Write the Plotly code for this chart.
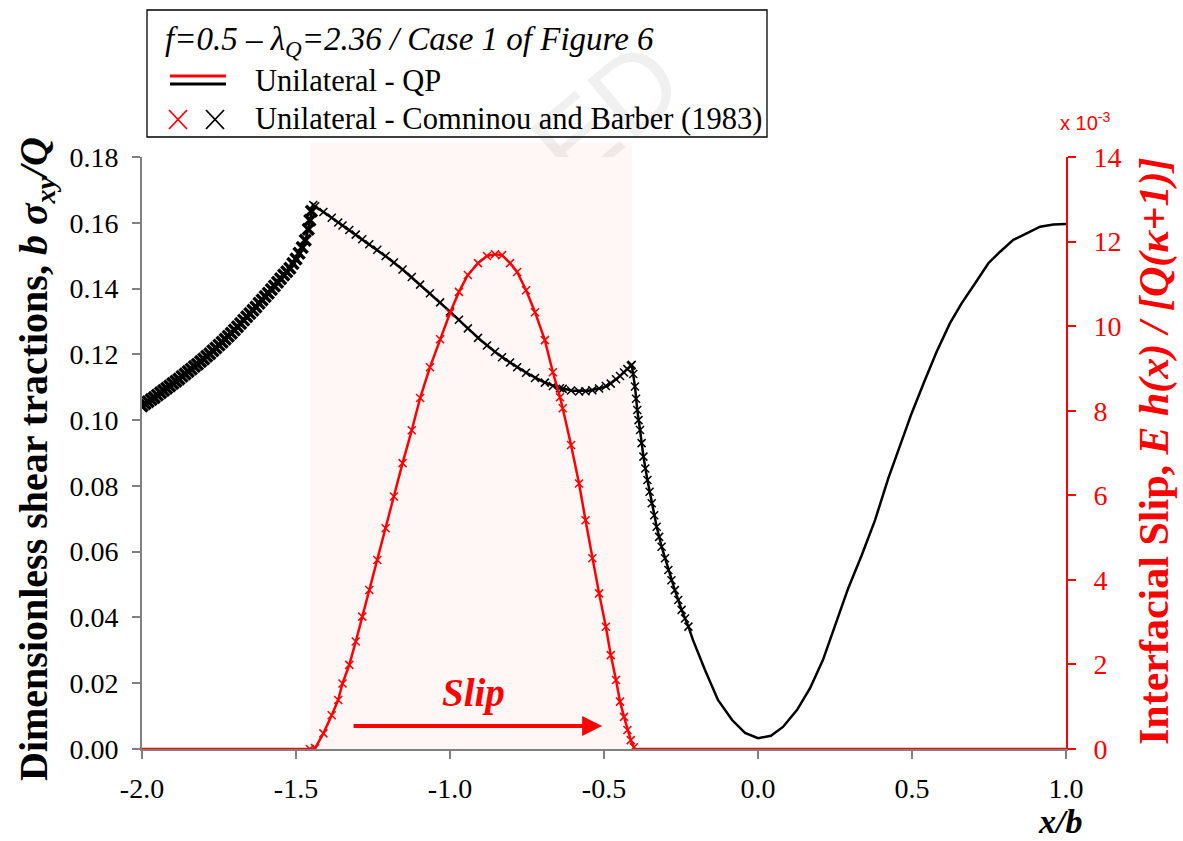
import plotly.graph_objects as go

# ---------------- data ----------------
# Comninou & Barber (1983) shear tractions, b*sigma_xy/Q -- stick zone x < -1.45
cb_stick_x = [-2.00, -1.99, -1.98, -1.97, -1.96, -1.95, -1.94, -1.93, -1.92, -1.91,
              -1.90, -1.89, -1.88, -1.87, -1.86, -1.85, -1.84, -1.83, -1.82, -1.81,
              -1.80, -1.79, -1.78, -1.77, -1.76, -1.75, -1.74, -1.73, -1.72, -1.71,
              -1.70, -1.69, -1.68, -1.67, -1.66, -1.65, -1.64, -1.63, -1.62, -1.61,
              -1.60, -1.59, -1.58, -1.57, -1.56, -1.55, -1.54, -1.53, -1.52, -1.51,
              -1.50, -1.49, -1.48, -1.47, -1.46, -1.455, -1.45]
cb_stick_tau = [0.1043, 0.1050, 0.1056, 0.1063, 0.1069, 0.1076, 0.1083, 0.1090, 0.1097, 0.1104,
                0.1111, 0.1118, 0.1125, 0.1133, 0.1140, 0.1148, 0.1155, 0.1163, 0.1170, 0.1178,
                0.1186, 0.1194, 0.1202, 0.1211, 0.1219, 0.1228, 0.1237, 0.1246, 0.1255, 0.1264,
                0.1274, 0.1284, 0.1294, 0.1304, 0.1314, 0.1324, 0.1334, 0.1344, 0.1355, 0.1365,
                0.1376, 0.1386, 0.1397, 0.1408, 0.1419, 0.1430, 0.1441, 0.1451, 0.1462, 0.1476,
                0.1490, 0.1507, 0.1525, 0.1547, 0.1580, 0.1608, 0.1635]

# Comninou & Barber (1983) shear tractions -- slip zone and trailing stick zone
cb_x = [-1.444, -1.438, -1.411, -1.384, -1.363, -1.349, -1.327, -1.306, -1.285, -1.262,
        -1.236, -1.209, -1.182, -1.154, -1.124, -1.097, -1.065, -1.032, -1.000,
        -0.971, -0.942, -0.909, -0.880, -0.854, -0.831, -0.805, -0.782, -0.753,
        -0.724, -0.692, -0.666, -0.643, -0.634, -0.607, -0.581, -0.560, -0.538,
        -0.516, -0.494, -0.478, -0.461, -0.448, -0.435, -0.424, -0.413, -0.410,
        -0.405, -0.3994, -0.396, -0.392, -0.388, -0.383, -0.378, -0.372, -0.366,
        -0.359, -0.352, -0.345, -0.337, -0.329, -0.321, -0.313, -0.302, -0.291,
        -0.281, -0.270, -0.259, -0.248, -0.237, -0.226]
cb_tau = [0.1654, 0.1650, 0.1633, 0.1615, 0.1601, 0.1592, 0.1578, 0.1564, 0.1550, 0.1535,
          0.1518, 0.1499, 0.1479, 0.1458, 0.1435, 0.1412, 0.1386, 0.1358, 0.1330,
          0.1305, 0.1279, 0.1250, 0.1227, 0.1208, 0.1191, 0.1175, 0.1161, 0.1144,
          0.1128, 0.1114, 0.1104, 0.1097, 0.1095, 0.1090, 0.1087, 0.1088, 0.1091,
          0.1096, 0.1104, 0.1111, 0.1124, 0.1134, 0.1145, 0.1155, 0.1165, 0.1168,
          0.1140, 0.1102, 0.1065, 0.1031, 0.1000, 0.0970, 0.0930, 0.0889, 0.0853,
          0.0818, 0.0782, 0.0747, 0.0711, 0.0676, 0.0645, 0.0615, 0.0580, 0.0544,
          0.0513, 0.0483, 0.0453, 0.0423, 0.0397, 0.0372]

# QP solution, shear tractions
qp_x = [-2.00, -1.90, -1.80, -1.70, -1.60, -1.55, -1.52, -1.50, -1.48, -1.47,
        -1.46, -1.455, -1.45, -1.445, -1.40, -1.35, -1.30, -1.25, -1.20, -1.15,
        -1.10, -1.05, -1.00, -0.95, -0.90, -0.85, -0.80, -0.75, -0.70, -0.65,
        -0.60, -0.55, -0.50, -0.46, -0.43, -0.41, -0.3994, -0.392, -0.383, -0.372,
        -0.359, -0.345, -0.329, -0.313, -0.291, -0.270, -0.248, -0.226, -0.211, -0.172,
        -0.130, -0.084, -0.042, 0.000, 0.042, 0.081, 0.127, 0.169, 0.211, 0.250,
        0.293, 0.337, 0.380, 0.423, 0.461, 0.499, 0.542, 0.580, 0.623, 0.661,
        0.705, 0.748, 0.786, 0.829, 0.872, 0.916, 0.959, 1.000]
qp_tau = [0.1043, 0.1111, 0.1186, 0.1274, 0.1376, 0.1430, 0.1462, 0.1490, 0.1525, 0.1547,
          0.1580, 0.1608, 0.1635, 0.1654, 0.1626, 0.1593, 0.1560, 0.1526, 0.1492, 0.1455,
          0.1414, 0.1373, 0.1330, 0.1286, 0.1243, 0.1205, 0.1172, 0.1143, 0.1118, 0.1099,
          0.1089, 0.1089, 0.1100, 0.1124, 0.1150, 0.1168, 0.1102, 0.1031, 0.0970, 0.0889,
          0.0818, 0.0747, 0.0676, 0.0615, 0.0544, 0.0483, 0.0423, 0.0372, 0.0331, 0.0240,
          0.0149, 0.0088, 0.0049, 0.0033, 0.0040, 0.0067, 0.0119, 0.0185, 0.0271, 0.0377,
          0.0489, 0.0590, 0.0696, 0.0823, 0.0919, 0.1021, 0.1122, 0.1208, 0.1294, 0.1355,
          0.1416, 0.1477, 0.1512, 0.1548, 0.1568, 0.1588, 0.1595, 0.1596]

# Interfacial slip E h(x) / [Q(kappa+1)], in units of 1e-3
slip_x = [-1.455, -1.438, -1.411, -1.384, -1.363, -1.349, -1.327, -1.306, -1.285, -1.262,
          -1.236, -1.209, -1.182, -1.154, -1.124, -1.097, -1.065, -1.032, -1.000, -0.971,
          -0.942, -0.909, -0.880, -0.854, -0.831, -0.805, -0.782, -0.753, -0.724, -0.692,
          -0.666, -0.643, -0.634, -0.607, -0.581, -0.560, -0.538, -0.516, -0.494, -0.478,
          -0.461, -0.448, -0.435, -0.424, -0.413, -0.403]
slip_h = [0.00, 0.02, 0.37, 0.80, 1.16, 1.55, 1.99, 2.54, 3.13, 3.76,
          4.47, 5.22, 5.97, 6.76, 7.54, 8.30, 9.03, 9.69, 10.31, 10.81,
          11.21, 11.49, 11.66, 11.70, 11.68, 11.49, 11.28, 10.85, 10.33, 9.67,
          8.91, 8.32, 8.06, 7.19, 6.28, 5.41, 4.51, 3.68, 2.89, 2.22,
          1.63, 1.12, 0.76, 0.45, 0.21, 0.04]

# QP slip: zero in the stick zones, slip curve inside the slip zone
qp_slip_x = [-2.0] + slip_x + [-0.400, 1.0]
qp_slip_h = [0.0] + slip_h + [0.0, 0.0]

slip_zone = (-1.455, -0.409)

x_range = [-2.0, 1.0]
y_range = [0, 0.18]
y2_range = [0, 14]
x_tick_vals = [-2.0, -1.5, -1.0, -0.5, 0.0, 0.5, 1.0]
x_tick_text = ["-2.0", "-1.5", "-1.0", "-0.5", "0.0", "0.5", "1.0"]

# ---------------- figure ----------------
SERIF = "Liberation Serif, Times New Roman, serif"
SANS = "Liberation Sans, Arial, sans-serif"
RED = "#ff0000"
GRAY = "#808080"
SHADE = "rgba(255,110,110,0.06)"
W, H = 1183, 841
ML, MR, MT, MB = 142, 117, 157, 92
PW, PH = W - ML - MR, H - MT - MB


def px(x):
    return (x - ML) / PW


def py(y):
    return (H - MB - y) / PH


fig = go.Figure()

fig.add_trace(go.Scatter(x=cb_stick_x, y=cb_stick_tau, mode="markers",
                         marker=dict(symbol="x-thin", size=11, color="black",
                                     line=dict(color="black", width=3.5)),
                         showlegend=False))
fig.add_trace(go.Scatter(x=qp_x, y=qp_tau, mode="lines",
                         line=dict(color="black", width=2.5), showlegend=False))
fig.add_trace(go.Scatter(x=cb_x, y=cb_tau, mode="markers",
                         marker=dict(symbol="x-thin", size=8, color="black",
                                     line=dict(color="black", width=1.5)),
                         showlegend=False))
fig.add_trace(go.Scatter(x=qp_slip_x, y=qp_slip_h, mode="lines", yaxis="y2",
                         line=dict(color=RED, width=2.5), showlegend=False))
fig.add_trace(go.Scatter(x=slip_x, y=slip_h, mode="markers", yaxis="y2",
                         marker=dict(symbol="x-thin", size=8, color=RED,
                                     line=dict(color=RED, width=1.5)),
                         showlegend=False))

shapes = [
    # faint page watermark, lying under the plotting area
    dict(type="rect", xref="paper", yref="paper", x0=px(500), x1=px(700),
         y0=py(200), y1=py(10), fillcolor="rgba(0,0,0,0)", line=dict(width=0),
         layer="below",
         label=dict(text="ED", textangle=-40, textposition="middle center",
                    font=dict(family=SANS, size=110, color="rgba(0,0,0,0.06)"))),
    # opaque plotting area, hiding the watermark inside the axes
    dict(type="rect", xref="x", yref="y", x0=x_range[0], x1=x_range[1],
         y0=y_range[0], y1=y_range[1], fillcolor="white", line=dict(width=0),
         layer="below"),
    # slip zone shading inside the axes
    dict(type="rect", xref="x", yref="y", x0=slip_zone[0], x1=slip_zone[1],
         y0=y_range[0], y1=y_range[1], fillcolor=SHADE, line=dict(width=0),
         layer="below"),
    # slip zone shading overhanging the top of the axes
    dict(type="rect", xref="x", yref="paper", x0=slip_zone[0], x1=slip_zone[1],
         y0=1.0, y1=py(143), fillcolor=SHADE, line=dict(width=0), layer="below"),
    # legend frame
    dict(type="rect", xref="paper", yref="paper", x0=px(147), x1=px(767),
         y0=py(137), y1=py(10), line=dict(color="black", width=1.3),
         fillcolor="rgba(0,0,0,0)", layer="above"),
    # legend glyphs: QP lines
    dict(type="line", xref="paper", yref="paper", x0=px(170), x1=px(226),
         y0=py(76), y1=py(76), line=dict(color=RED, width=3)),
    dict(type="line", xref="paper", yref="paper", x0=px(170), x1=px(226),
         y0=py(84), y1=py(84), line=dict(color="black", width=3)),
]
# legend glyphs: crosses
for cx, col in ((178, RED), (215, "black")):
    shapes.append(dict(type="line", xref="paper", yref="paper", x0=px(cx - 9), x1=px(cx + 9),
                       y0=py(110), y1=py(129), line=dict(color=col, width=1.8)))
    shapes.append(dict(type="line", xref="paper", yref="paper", x0=px(cx - 9), x1=px(cx + 9),
                       y0=py(129), y1=py(110), line=dict(color=col, width=1.8)))

annotations = [
    # legend texts
    dict(text="<i>f=0.5 – λ<sub>Q</sub>=2.36 / Case 1 of Figure 6</i>", xref="paper", yref="paper",
         x=px(163), y=py(42), xanchor="left", yanchor="middle", showarrow=False,
         font=dict(family=SERIF, size=33, color="black")),
    dict(text="Unilateral - QP", xref="paper", yref="paper",
         x=px(253), y=py(81), xanchor="left", yanchor="middle", showarrow=False,
         font=dict(family=SERIF, size=30.5, color="black")),
    dict(text="Unilateral - Comninou and Barber (1983)", xref="paper", yref="paper",
         x=px(253), y=py(119), xanchor="left", yanchor="middle", showarrow=False,
         font=dict(family=SERIF, size=30.5, color="black")),
    # axis titles
    dict(text="<b>Dimensionless shear tractions, <i>b σ<sub>xy</sub>/Q</i></b>", xref="paper",
         yref="paper", x=px(36), y=py(459), textangle=-90, showarrow=False,
         xanchor="center", yanchor="middle",
         font=dict(family=SERIF, size=40, color="black")),
    dict(text="<b>Interfacial Slip, <i>E h(x) / [Q(κ+1)]</i></b>", xref="paper",
         yref="paper", x=px(1154), y=py(452), textangle=-90, showarrow=False,
         xanchor="center", yanchor="middle",
         font=dict(family=SERIF, size=42, color=RED)),
    dict(text="<b><i>x/b</i></b>", xref="paper", yref="paper", x=px(1060), y=py(821),
         showarrow=False, xanchor="center", yanchor="middle",
         font=dict(family=SERIF, size=34, color="black")),
    dict(text="x 10<sup>-3</sup>", xref="paper", yref="paper", x=px(1085), y=py(121),
         showarrow=False, xanchor="center", yanchor="middle",
         font=dict(family=SANS, size=20, color=RED)),
    # slip zone arrow and label
    dict(text="", x=-0.506, y=0.0070, ax=-1.318, ay=0.0070, xref="x", yref="y",
         axref="x", ayref="y", showarrow=True, arrowhead=2, arrowsize=1.0,
         arrowwidth=4, arrowcolor=RED),
    dict(text="<b><i>Slip</i></b>", x=-0.925, y=py(693), xref="x", yref="paper",
         showarrow=False, xanchor="center", yanchor="middle",
         font=dict(family=SERIF, size=39, color=RED)),
]

fig.update_layout(
    width=W, height=H,
    margin=dict(l=ML, r=MR, t=MT, b=MB, pad=0),
    paper_bgcolor="white", plot_bgcolor="white",
    font=dict(family=SERIF),
    showlegend=False,
    shapes=shapes,
    annotations=annotations,
    xaxis=dict(range=x_range, tickvals=x_tick_vals, ticktext=x_tick_text,
               showgrid=False, zeroline=False, showline=True, linecolor=GRAY, linewidth=2,
               ticks="outside", ticklen=8, tickcolor=GRAY, tickwidth=1.5,
               tickfont=dict(family=SERIF, size=28, color="black"),
               ticklabelstandoff=5),
    yaxis=dict(range=y_range, dtick=0.02, tickformat=".2f",
               showgrid=False, zeroline=False, showline=True, linecolor=GRAY, linewidth=2,
               ticks="outside", ticklen=8, tickcolor=GRAY, tickwidth=1.5,
               tickfont=dict(family=SERIF, size=28, color="black"),
               ticklabelstandoff=8),
    yaxis2=dict(range=y2_range, dtick=2, overlaying="y", side="right",
                showgrid=False, zeroline=False, showline=True, linecolor=RED, linewidth=2,
                ticks="outside", ticklen=8, tickcolor=RED, tickwidth=1.5,
                tickfont=dict(family=SERIF, size=28, color=RED),
                ticklabelstandoff=12),
)

fig.write_html("out.html")
